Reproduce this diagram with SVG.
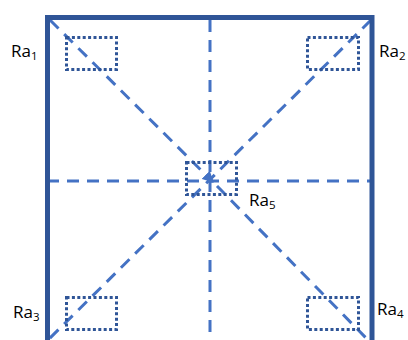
<svg xmlns="http://www.w3.org/2000/svg" width="408" height="340" viewBox="0 0 408 340">
  <style>
    .frame { fill: none; stroke: #2F5597; stroke-width: 5; stroke-linejoin: miter; }
    .dash { fill: none; stroke: #4472C4; stroke-width: 3; stroke-dasharray: 12 8; }
    .dot { fill: none; stroke: #2F5597; stroke-width: 3; stroke-dasharray: 3 2.4; }
    .lbl { font-family: "Open Sans", "Liberation Sans", sans-serif; font-size: 17px; fill: #000; }
    .sub { font-size: 11.5px; }
  </style>
  <defs>
    <marker id="arr" viewBox="0 0 10 10" refX="9" refY="5" markerWidth="3.8" markerHeight="3.8" orient="auto" markerUnits="strokeWidth">
      <path d="M0,0 L10,5 L0,10 z" fill="#4472C4"/>
    </marker>
  </defs>
  <rect width="408" height="340" fill="#fff"/>
  <g id="connectors">
    <line class="dash" x1="47" y1="181" x2="372" y2="181"/>
    <line class="dash" x1="210" y1="20" x2="210" y2="340"/>
    <line class="dash" x1="50" y1="20" x2="213" y2="182" marker-end="url(#arr)"/>
    <line class="dash" x1="217" y1="186" x2="368" y2="340"/>
    <line class="dash" x1="371" y1="20" x2="48" y2="340"/>
  </g>
  <g id="frame">
    <path class="frame" d="M47.5,340 V17.5 H372 V340"/>
  </g>
  <g id="Ra1">
    <rect class="dot" x="66.5" y="37.5" width="50" height="32"/>
    <text class="lbl" x="11" y="57">Ra<tspan class="sub" dy="3">1</tspan></text>
  </g>
  <g id="Ra2">
    <rect class="dot" x="307.5" y="37.5" width="51" height="32"/>
    <text class="lbl" x="379" y="57">Ra<tspan class="sub" dy="3">2</tspan></text>
  </g>
  <g id="Ra5">
    <rect class="dot" x="186.5" y="162.5" width="50" height="32"/>
    <text class="lbl" x="249" y="206">Ra<tspan class="sub" dy="3">5</tspan></text>
  </g>
  <g id="Ra3">
    <rect class="dot" x="66.5" y="297.5" width="50" height="32"/>
    <text class="lbl" x="13" y="318">Ra<tspan class="sub" dy="3">3</tspan></text>
  </g>
  <g id="Ra4">
    <rect class="dot" x="307.5" y="297.5" width="51" height="32"/>
    <text class="lbl" x="377" y="315">Ra<tspan class="sub" dy="3">4</tspan></text>
  </g>
</svg>
